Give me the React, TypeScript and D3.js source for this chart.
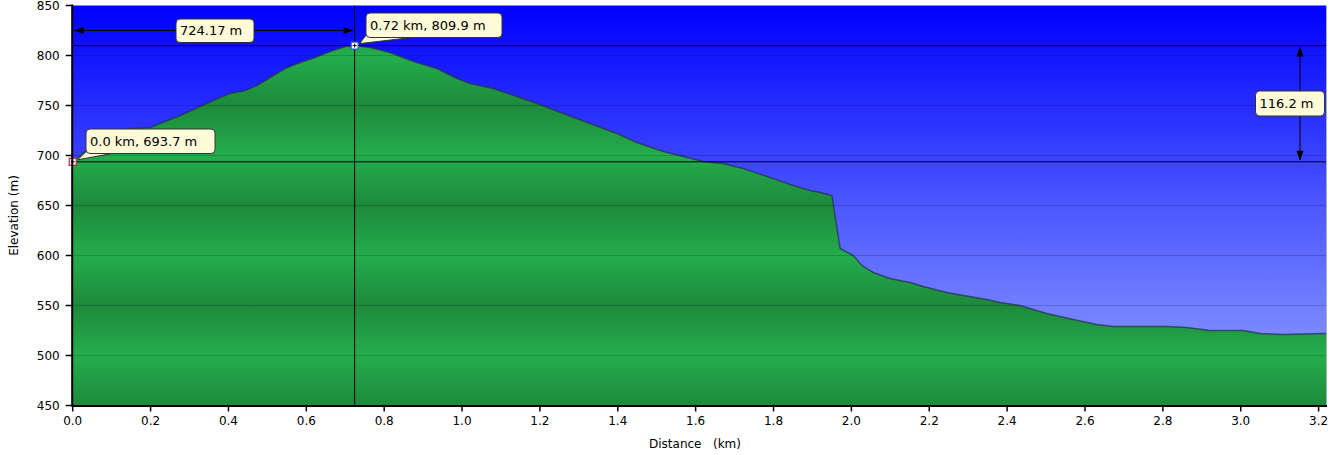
import * as d3 from "d3";

const W = 1330;
const H = 455;
const PLOT = { left: 72.7, right: 1326, top: 5.5, bottom: 405.5 };

// profile
const distanceKm = [
  0.0, 0.032, 0.07, 0.109, 0.147, 0.199, 0.224, 0.276, 0.327, 0.366, 0.404, 0.443,
  0.473, 0.507, 0.545, 0.584, 0.622, 0.661, 0.7, 0.724, 0.764, 0.815, 0.848, 0.884,
  0.935, 0.987, 1.021, 1.08, 1.141, 1.2, 1.26, 1.329, 1.398, 1.449, 1.517, 1.568,
  1.619, 1.67, 1.722, 1.791, 1.843, 1.894, 1.92, 1.95, 1.971, 2.005, 2.027, 2.056,
  2.099, 2.151, 2.185, 2.245, 2.288, 2.348, 2.382, 2.433, 2.502, 2.57, 2.63, 2.673,
  2.741, 2.81, 2.861, 2.921, 3.007, 3.05, 3.109, 3.212, 3.219,
];
const elevationM = [
  693.7, 704, 715, 722, 727, 728, 732, 740, 749, 756, 762, 765,
  770, 778, 787, 793, 798, 804, 809, 809.9, 808, 803, 798, 793,
  787, 777, 772, 767, 759, 751, 742, 732, 722, 713, 704, 699,
  694, 692, 687, 678, 671, 665, 663, 660, 607, 600, 590, 583,
  577, 573, 569, 563, 560, 556, 553, 550, 542, 536, 531, 529,
  529, 529, 528, 525, 525, 522, 521, 522, 522,
];

const xTicks = [0, 0.2, 0.4, 0.6, 0.8, 1.0, 1.2, 1.4, 1.6, 1.8, 2.0, 2.2, 2.4, 2.6, 2.8, 3.0, 3.2];
const yTicks = [450, 500, 550, 600, 650, 700, 750, 800, 850];

const startKm = 0;
const startElev = 693.7;
const peakKm = 0.72417;
const peakElev = 809.9;

const FONT = "'DejaVu Sans', Verdana, sans-serif";
const BOX_FILL = "#fffbd8";

const Callout = ({ x, y, w, h, text, tail }: { x: number; y: number; w: number; h: number; text: string; tail?: string }) => (
  <g>
    {tail && <path d={tail} fill={BOX_FILL} stroke="#333" strokeWidth={1} />}
    <rect x={x} y={y} width={w} height={h} rx={4} fill={BOX_FILL} stroke="#333" strokeWidth={1} />
    <text x={x + 4} y={y + h / 2 + 4.5} fontSize={13} fontFamily={FONT} fill="#000">
      {text}
    </text>
  </g>
);

export default function App() {
  const data = distanceKm.map((km, i) => ({ km, m: elevationM[i] }));

  const x = d3.scaleLinear().domain([0, 3.219]).range([PLOT.left, PLOT.right]);
  const y = d3.scaleLinear().domain([450, 850]).range([PLOT.bottom, PLOT.top]);

  const area = d3
    .area<{ km: number; m: number }>()
    .x((d) => x(d.km))
    .y0(y(450))
    .y1((d) => y(d.m));
  const line = d3
    .line<{ km: number; m: number }>()
    .x((d) => x(d.km))
    .y((d) => y(d.m));

  // green banding: dark at 450/550/650/750/850, light in between
  const greenStops = yTicks
    .slice()
    .reverse()
    .map((v, i) => ({ off: i / (yTicks.length - 1), col: (v / 50) % 2 === 1 ? "#1d8a3b" : "#24ad4c" }));

  const px = x(peakKm);
  const py = y(peakElev);
  const sx = x(startKm);
  const sy = y(startElev);
  const arrowY = 30.5;
  const arrowX = 1300;

  return (
    <svg width={W} height={H} style={{ position: "absolute", left: 0, top: 0, background: "#fff" }}>
      <defs>
        <linearGradient id="sky" gradientUnits="userSpaceOnUse" x1={0} y1={PLOT.top} x2={0} y2={PLOT.bottom}>
          <stop offset="0" stopColor="#0000ff" />
          <stop offset="0.5" stopColor="#4c57ff" />
          <stop offset="1" stopColor="#96a4ff" />
        </linearGradient>
        <linearGradient id="ground" gradientUnits="userSpaceOnUse" x1={0} y1={PLOT.top} x2={0} y2={PLOT.bottom}>
          {greenStops.map((s, i) => (
            <stop key={i} offset={s.off} stopColor={s.col} />
          ))}
        </linearGradient>
        <clipPath id="plotClip">
          <rect x={PLOT.left} y={PLOT.top} width={PLOT.right - PLOT.left} height={PLOT.bottom - PLOT.top} />
        </clipPath>
      </defs>

      <rect x={PLOT.left} y={PLOT.top} width={PLOT.right - PLOT.left} height={PLOT.bottom - PLOT.top} fill="url(#sky)" />
      <g clipPath="url(#plotClip)">
        <path d={area(data) ?? ""} fill="url(#ground)" />
        <path d={line(data) ?? ""} fill="none" stroke="#26305a" strokeOpacity={0.75} strokeWidth={1.5} />
        {yTicks
          .filter((t) => t > 450 && t < 850)
          .map((t) => (
            <line key={t} x1={PLOT.left} x2={PLOT.right} y1={y(t)} y2={y(t)} stroke="#000" strokeOpacity={0.18} />
          ))}
      </g>
      <line x1={PLOT.right + 0.5} x2={PLOT.right + 0.5} y1={PLOT.top} y2={PLOT.bottom} stroke="#9fb4b4" />

      {/* measurement lines */}
      <line x1={px} x2={px} y1={PLOT.top} y2={PLOT.bottom} stroke="#000" />
      <line x1={PLOT.left} x2={PLOT.right} y1={py} y2={py} stroke="#000" />
      <line x1={PLOT.left} x2={PLOT.right} y1={sy} y2={sy} stroke="#000" />

      {/* horizontal distance arrow */}
      <line x1={sx + 2} x2={px - 2} y1={arrowY} y2={arrowY} stroke="#000" />
      <path d={`M${sx + 1},${arrowY} l10,-3.5 v7 Z`} fill="#000" />
      <path d={`M${px - 1},${arrowY} l-10,-3.5 v7 Z`} fill="#000" />
      <Callout x={176} y={19} w={78} h={23.5} text="724.17 m" />

      {/* vertical elevation-difference arrow */}
      <line x1={arrowX} x2={arrowX} y1={py + 2} y2={sy - 2} stroke="#000" />
      <path d={`M${arrowX},${py + 1} l-3.5,10 h7 Z`} fill="#000" />
      <path d={`M${arrowX},${sy - 1} l-3.5,-10 h7 Z`} fill="#000" />
      <Callout x={1255.5} y={91} w={69} h={25} text="116.2 m" />

      <Callout
        x={366}
        y={13}
        w={136}
        h={24.5}
        text="0.72 km, 809.9 m"
        tail={`M370,30 L${px + 5},${py - 2} L412,37.5 Z`}
      />
      <Callout
        x={86}
        y={129}
        w={129}
        h={24.5}
        text="0.0 km, 693.7 m"
        tail={`M92,146 L${sx + 5},${sy - 2} L112,153.5 Z`}
      />

      {/* point markers */}
      <g>
        <rect x={px - 3.5} y={py - 3.5} width={7} height={7} fill="#fff" stroke="#2456c8" strokeWidth={1.2} />
        <path d={`M${px - 2},${py} h4 M${px},${py - 2} v4`} stroke="#000" strokeWidth={1} />
        <rect x={sx - 3.5} y={sy - 3.5} width={7} height={7} fill="#fff" stroke="#c81e3c" strokeWidth={1.2} />
        <path d={`M${sx - 2},${sy} h4 M${sx},${sy - 2} v4`} stroke="#000" strokeWidth={1} />
      </g>

      {/* axes */}
      <line x1={PLOT.left - 0.5} x2={PLOT.left - 0.5} y1={PLOT.top - 1} y2={PLOT.bottom + 1} stroke="#000" strokeWidth={2} />
      <line x1={PLOT.left - 1} x2={PLOT.right + 1} y1={PLOT.bottom + 0.5} y2={PLOT.bottom + 0.5} stroke="#000" strokeWidth={2} />
      {yTicks.map((t) => (
        <g key={t}>
          <line x1={PLOT.left - 7} x2={PLOT.left} y1={y(t)} y2={y(t)} stroke="#000" strokeWidth={1.5} />
          <text x={PLOT.left - 13} y={y(t) + 4.5} textAnchor="end" fontSize={12} fontFamily={FONT} fill="#000">
            {t}
          </text>
        </g>
      ))}
      {xTicks.map((t) => (
        <g key={t}>
          <line x1={x(t)} x2={x(t)} y1={PLOT.bottom} y2={PLOT.bottom + 6} stroke="#000" strokeWidth={1.5} />
          <text x={x(t)} y={425} textAnchor="middle" fontSize={12} fontFamily={FONT} fill="#000">
            {t.toFixed(1)}
          </text>
        </g>
      ))}
      <text
        transform={`translate(18,${(PLOT.top + PLOT.bottom) / 2 + 10}) rotate(-90)`}
        textAnchor="middle"
        fontSize={12}
        fontFamily={FONT}
        fill="#000"
      >
        Elevation (m)
      </text>
      <text x={695} y={448} textAnchor="middle" fontSize={12} fontFamily={FONT} fill="#000" style={{ whiteSpace: "pre" }}>
        {"Distance   (km)"}
      </text>
    </svg>
  );
}
